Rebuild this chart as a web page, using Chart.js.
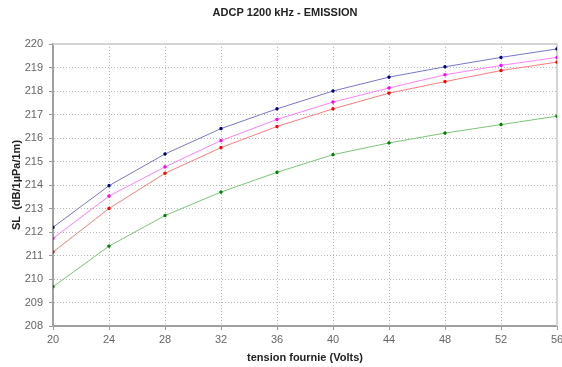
<!DOCTYPE html>
<html>
<head>
<meta charset="utf-8">
<script src="https://cdn.jsdelivr.net/npm/chart.js@4/dist/chart.umd.min.js"></script>
<style>
html,body{margin:0;padding:0;background:#fff;}
#wrap{width:562px;height:367px;}
</style>
</head>
<body>
<div id="wrap"><canvas id="c" width="562" height="367"></canvas></div>
<script>
const titleText = "ADCP 1200 kHz - EMISSION";
const xTitle = "tension fournie (Volts)";
const yTitle = "SL  (dB/1µPa/1m)";
const voltages = [20, 24, 28, 32, 36, 40, 44, 48, 52, 56];
const seriesBlue    = [212.2, 213.97, 215.32, 216.40, 217.24, 218.0, 218.59, 219.03, 219.43, 219.79];
const seriesMagenta = [211.73, 213.53, 214.77, 215.89, 216.79, 217.53, 218.13, 218.69, 219.09, 219.43];
const seriesRed     = [211.15, 213.0, 214.5, 215.59, 216.49, 217.24, 217.91, 218.40, 218.87, 219.23];
const seriesGreen   = [209.67, 211.40, 212.70, 213.70, 214.54, 215.29, 215.79, 216.21, 216.57, 216.93];

function pts(arr){ return voltages.map((v,i)=>({x:v,y:arr[i]})); }
function ds(arr, line, pt){
  return {data:pts(arr), borderColor:line, backgroundColor:pt, pointBackgroundColor:pt, pointBorderColor:pt,
    borderWidth:1, pointRadius:1.5, pointStyle:'rect', tension:0};
}

const frame = {
  id:'frame',
  beforeDatasetsDraw(chart){
    const {ctx, chartArea:a} = chart;
    ctx.save();
    ctx.strokeStyle = '#d4d4d4';
    ctx.lineWidth = 2;
    ctx.beginPath();
    ctx.moveTo(a.left, a.top); ctx.lineTo(a.right, a.top); ctx.lineTo(a.right, a.bottom);
    ctx.stroke();
    ctx.restore();
  },
  afterDraw(chart){
    const ctx = chart.ctx;
    ctx.save();
    ctx.font = 'bold 11px "Liberation Sans", Arial, sans-serif';
    ctx.fillStyle = '#222';
    ctx.textAlign = 'center';
    ctx.textBaseline = 'middle';
    ctx.fillText(titleText, 285, 13);
    ctx.restore();
  }
};

new Chart(document.getElementById('c'), {
  type:'line',
  data:{datasets:[
    ds(seriesBlue, '#7878c4', '#000080'),
    ds(seriesMagenta, '#ff80ff', '#ff00ff'),
    ds(seriesRed, '#ff7c7c', '#ff0000'),
    ds(seriesGreen, '#7cc47c', '#008000')
  ]},
  options:{
    responsive:false, animation:false,
    layout:{padding:{top:44, right:5, left:0, bottom:0}},
    plugins:{legend:{display:false}, tooltip:{enabled:false}, title:{display:false}},
    scales:{
      x:{type:'linear', min:20, max:56,
        ticks:{stepSize:4, color:'#666', font:{family:'"Liberation Sans", Arial', size:11}, padding:3},
        grid:{color:'#b8b8b8', tickColor:'#999', tickLength:4, tickBorderDash:[]},
        border:{color:'#a0a0a0', width:2, dash:[1,2]},
        title:{display:true, text:xTitle, color:'#222', font:{family:'"Liberation Sans", Arial', size:11, weight:'bold'}, padding:{top:0,bottom:2}},
        afterFit(s){ s.height = 41; s.paddingRight = 0; s.paddingLeft = 0; }
      },
      y:{min:208, max:220,
        ticks:{stepSize:1, color:'#666', font:{family:'"Liberation Sans", Arial', size:11}, padding:6},
        grid:{color:'#b8b8b8', tickColor:'#999', tickLength:4, tickBorderDash:[]},
        border:{color:'#a0a0a0', width:2, dash:[1,2]},
        title:{display:true, text:yTitle, color:'#222', font:{family:'"Liberation Sans", Arial', size:11, weight:'bold'}, padding:{top:10,bottom:0}},
        afterFit(s){ s.width = 53; }
      }
    }
  },
  plugins:[frame]
});
</script>
</body>
</html>
